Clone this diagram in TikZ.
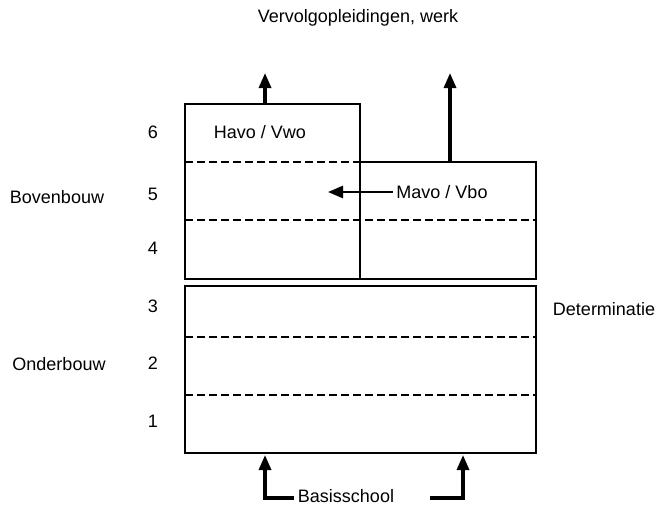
\documentclass[tikz,border=0pt]{standalone}
\usepackage{fontspec}
\setmainfont{Liberation Sans}
\usetikzlibrary{arrows.meta,positioning}

\begin{document}
\begin{tikzpicture}[x=1pt,y=-1pt, font=\fontsize{18}{21}\selectfont,
    wall/.style={line width=2pt},
    grade/.style={line width=1.7pt, dash pattern=on 8pt off 4pt},
    flow/.style={line width=3.2pt, -{Triangle[length=15pt,width=12pt]}}]
\useasboundingbox (0,0) rectangle (658,507);
% schoolblokken
\draw[wall] (185,104) rectangle (360,279);
\draw[wall] (360,162) rectangle (536,279);
\draw[wall] (185,286) rectangle (536,453);
\draw[grade] (185,162) -- (360,162);
\draw[grade] (185,220) -- (536,220);
\draw[grade] (185,337) -- (536,337);
\draw[grade] (185,395) -- (536,395);
% leerjaren
\foreach \jr/\yy in {6/132,5/194,4/248,3/306,2/363,1/421}
  \node (jaar\jr) at (153,\yy) {\jr};
\node (boven) at (57,197) {Bovenbouw};
\node (onder) at (59,364) {Onderbouw};
\node (determ) at (604,309) {Determinatie};
\node (havo) at (260,132) {Havo / Vwo};
\node (mavo) at (442,192) {Mavo / Vbo};
\node (vervolg) at (358,18) {Vervolgopleidingen, werk};
\node (basis) at (346,496) {Basisschool};
% pijlen
\coordinate (havotop) at (265,104);
\coordinate (mavotop) at (450,162);
\coordinate (uithavo) at (265,73);
\coordinate (uitmavo) at (450,73);
\coordinate (mavodoel) at (328,192);
\coordinate (inlinks) at (265,455);
\coordinate (inrechts) at (463,455);
\coordinate (basisrechts) at (430,498);
\draw[flow] (havotop) -- (uithavo);
\draw[flow] (mavotop) -- (uitmavo);
\draw[flow, line width=2.6pt] (mavo.west) -- (mavodoel);
\draw[flow] (basis.west |- 0,498) -| (inlinks);
\draw[flow] (basisrechts) -| (inrechts);
\end{tikzpicture}
\end{document}
